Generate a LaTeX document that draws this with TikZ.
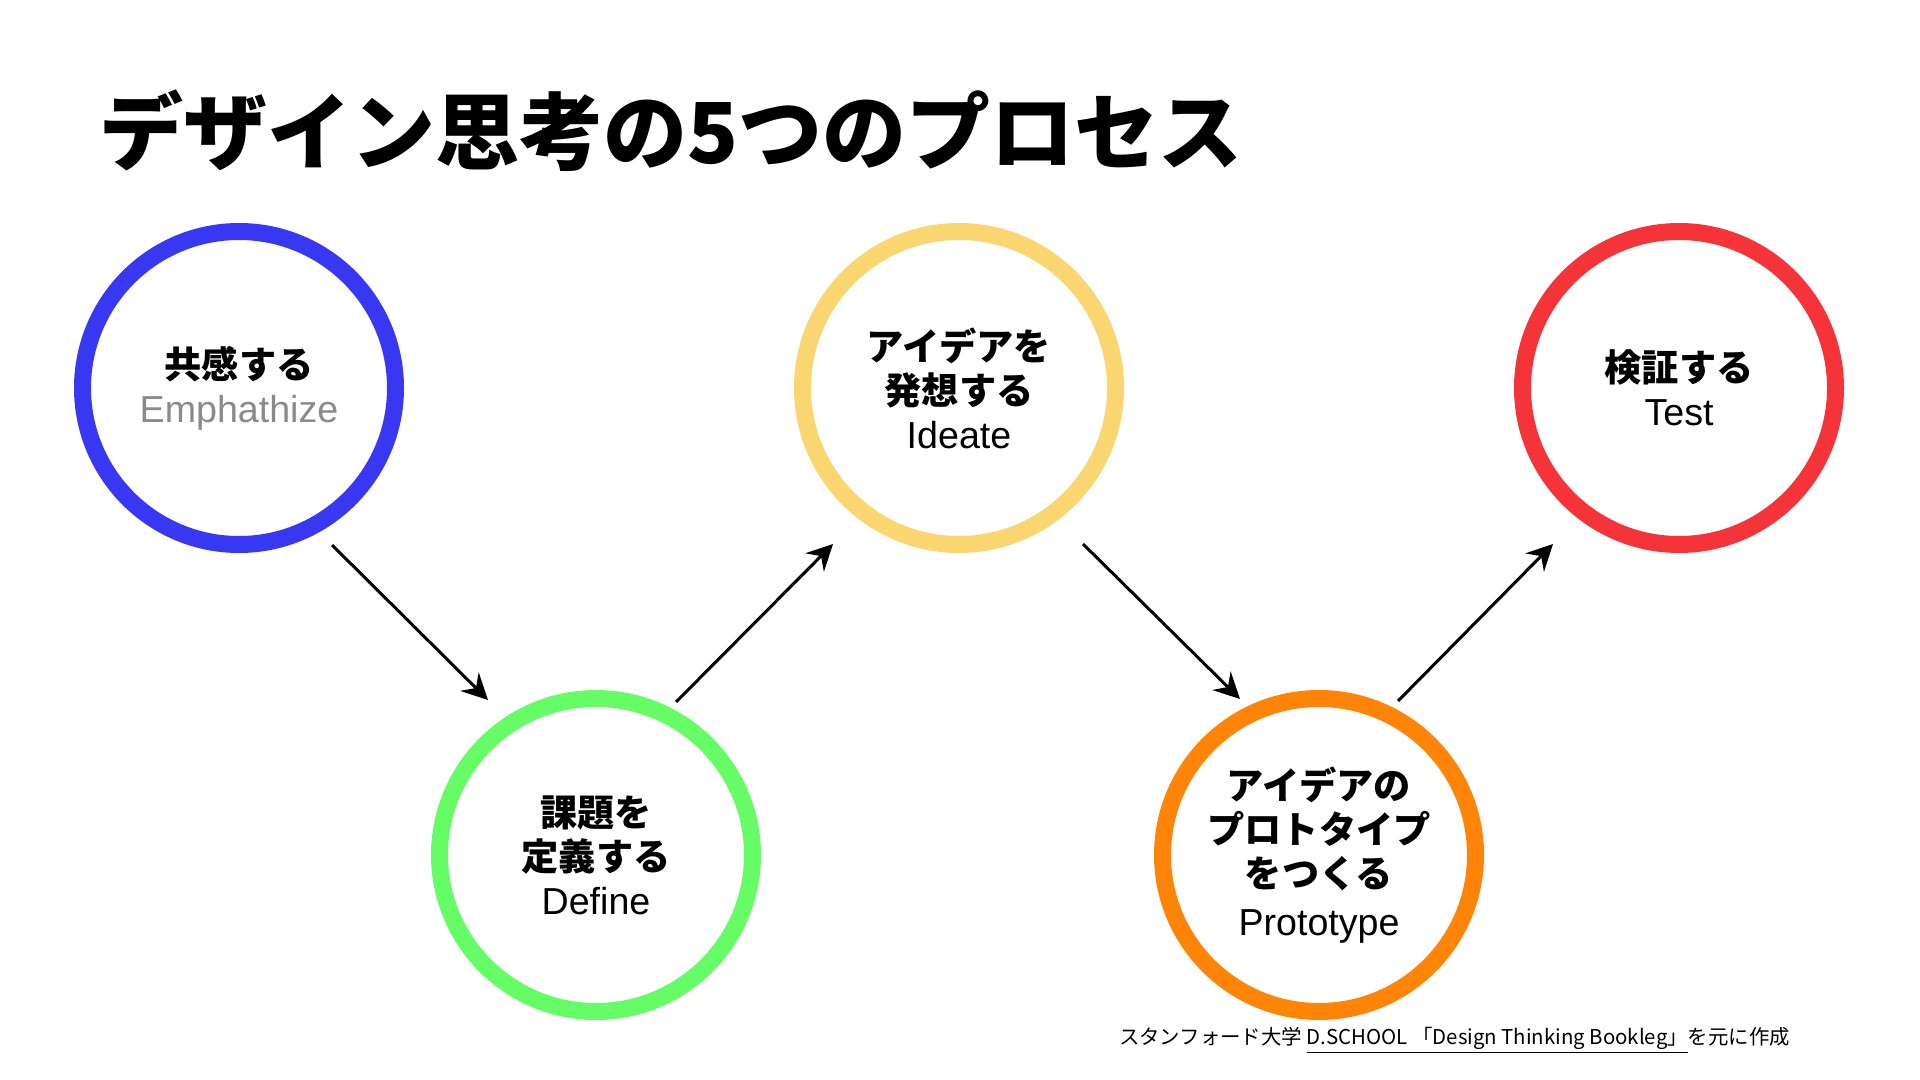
\documentclass[tikz,border=0pt]{standalone}
\usepackage{fontspec}
\setmainfont{Liberation Sans}
\newfontfamily\jp{Noto Sans CJK JP}
\usetikzlibrary{arrows.meta}
\definecolor{cblue}{RGB}{56,56,242}
\definecolor{cgreen}{RGB}{102,252,102}
\definecolor{cyellow}{RGB}{249,214,112}
\definecolor{corange}{RGB}{255,132,8}
\definecolor{cred}{RGB}{245,52,58}
\definecolor{cgray}{RGB}{138,138,138}
\newcommand{\jl}[1]{{\jp\bfseries\fontsize{18.6}{22}\selectfont #1}}
\tikzset{
	ring/.style={circle,draw=#1,line width=8.5pt,minimum size=156.5pt,inner sep=0pt,align=center,font=\fontsize{18.8}{22}\selectfont},
	arr/.style={line width=1.5pt,-{Stealth[length=13pt,width=13pt,inset=4.5pt]}}
}
\begin{document}
\begin{tikzpicture}[x=0.5pt,y=-0.5pt]
	\fill[white](0,0) rectangle (1920,1080);
	\useasboundingbox (0,0) rectangle (1920,1080);
	\node[anchor=west,font=\jp\bfseries\fontsize{42}{50}\selectfont] (title) at (92,131) {デザイン思考の5つのプロセス};
	\node[ring=cblue] (emp) at (239,388) {\jl{共感する}\\ \textcolor{cgray}{Emphathize}};
	\node[ring=cgreen] (def) at (596,855) {\jl{課題を}\\ \jl{定義する}\\ Define};
	\node[ring=cyellow] (ide) at (959,388) {\jl{アイデアを}\\ \jl{発想する}\\ Ideate};
	\node[ring=corange] (pro) at (1319,855) {\jl{アイデアの}\\ \jl{プロトタイプ}\\ \jl{をつくる}\\[2pt] Prototype};
	\node[ring=cred] (tes) at (1679,388) {\jl{検証する}\\ Test};
	\draw[arr] ([shift={(93,157)}]emp.center) -- ([shift={(-108,-155)}]def.center);
	\draw[arr] ([shift={(80,-153)}]def.center) -- ([shift={(-126,156)}]ide.center);
	\draw[arr] ([shift={(124,156)}]ide.center) -- ([shift={(-79,-156)}]pro.center);
	\draw[arr] ([shift={(79,-154)}]pro.center) -- ([shift={(-126,156)}]tes.center);
	\node[anchor=west,font=\jp\fontsize{10.2}{12}\selectfont] (note) at (1112,1040) {スタンフォード大学 \underline{D.SCHOOL 「Design Thinking Bookleg」}を元に作成};
\end{tikzpicture}
\end{document}
